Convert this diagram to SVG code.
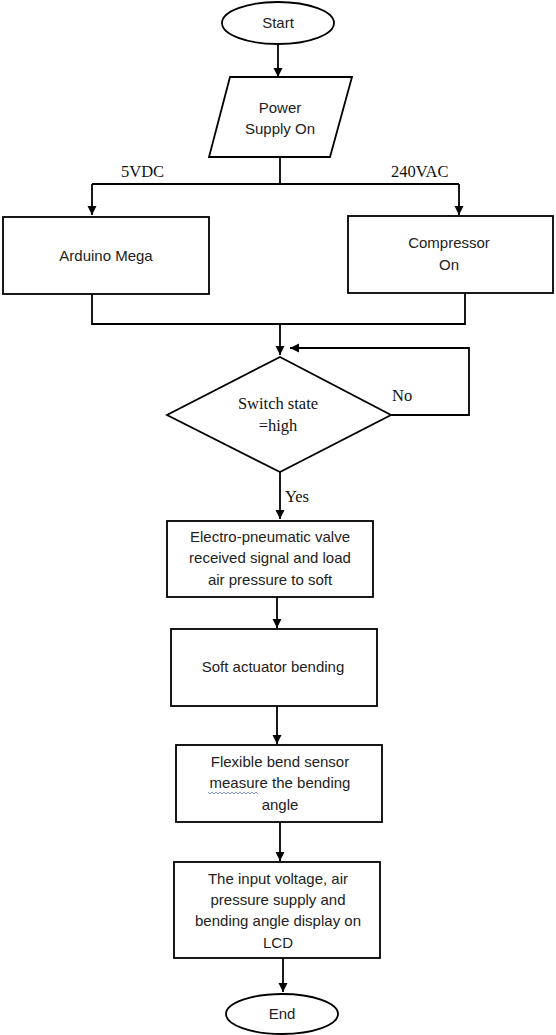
<svg xmlns="http://www.w3.org/2000/svg" width="556" height="1035" viewBox="0 0 556 1035">
<style>
.s{fill:#fff;stroke:#000;stroke-width:1.8}
.c{fill:none;stroke:#000;stroke-width:1.8}
.t{font-family:"Liberation Sans",Arial,sans-serif;font-size:15px;fill:#222;text-anchor:middle}
.m{font-family:"Liberation Serif","Times New Roman",serif;font-size:16.5px;fill:#111}
</style>
<defs>
<marker id="a" markerUnits="userSpaceOnUse" markerWidth="10" markerHeight="10" refX="9" refY="5" orient="auto">
<path d="M0,0.5 L9,5 L0,9.5 Z" fill="#000"/>
</marker>
</defs>
<rect width="556" height="1035" fill="#fff"/>
<g id="connectors">
<path class="c" d="M278,45 V77" marker-end="url(#a)"/>
<path class="c" d="M280,157 V184"/>
<path class="c" d="M92,184 H459"/>
<path class="c" d="M92,184 V215" marker-end="url(#a)"/>
<path class="c" d="M459,184 V215" marker-end="url(#a)"/>
<path class="c" d="M92,294 V324 H465 V293"/>
<path class="c" d="M280,324 V355" marker-end="url(#a)"/>
<path class="c" d="M391,415 H469 V348 H290" marker-end="url(#a)"/>
<path class="c" d="M280,472 V519" marker-end="url(#a)"/>
<path class="c" d="M277,597 V628" marker-end="url(#a)"/>
<path class="c" d="M277,706 V744" marker-end="url(#a)"/>
<path class="c" d="M280,822 V861" marker-end="url(#a)"/>
<path class="c" d="M283,958 V992" marker-end="url(#a)"/>
<text class="m" x="121" y="177">5VDC</text>
<text class="m" x="391" y="177">240VAC</text>
<text class="m" x="392" y="401">No</text>
<text class="m" x="285" y="502">Yes</text>
</g>
<g id="start">
<ellipse class="s" cx="278" cy="23" rx="56" ry="21"/>
<text class="t" x="278" y="28">Start</text>
</g>
<g id="power">
<polygon class="s" points="230,77 352,77 330,157 209,157"/>
<text class="t" x="280" y="113">Power</text>
<text class="t" x="280" y="134">Supply On</text>
</g>
<g id="arduino">
<rect class="s" x="3" y="217" width="206" height="77"/>
<text class="t" x="106" y="261">Arduino Mega</text>
</g>
<g id="compressor">
<rect class="s" x="348" y="216" width="205" height="77"/>
<text class="t" x="449" y="248">Compressor</text>
<text class="t" x="449" y="270">On</text>
</g>
<g id="switch">
<polygon class="s" points="280,357 391,415 280,472 167,415"/>
<text class="m" x="278" y="409" text-anchor="middle">Switch state</text>
<text class="m" x="278" y="431" text-anchor="middle">=high</text>
</g>
<g id="valve">
<rect class="s" x="167" y="521" width="206" height="76"/>
<text class="t" x="270" y="542">Electro-pneumatic valve</text>
<text class="t" x="270" y="563">received signal and load</text>
<text class="t" x="270" y="585">air pressure to soft</text>
</g>
<g id="actuator">
<rect class="s" x="171" y="629" width="206" height="77"/>
<text class="t" x="273" y="672">Soft actuator bending</text>
</g>
<g id="sensor">
<rect class="s" x="176" y="745" width="206" height="77"/>
<text class="t" x="280" y="767">Flexible bend sensor</text>
<text class="t" x="280" y="788">measure the bending</text>
<text class="t" x="280" y="810">angle</text>
<path d="M208,792 l2,2 l2,-2 l2,2 l2,-2 l2,2 l2,-2 l2,2 l2,-2 l2,2 l2,-2 l2,2 l2,-2 l2,2 l2,-2 l2,2 l2,-2 l2,2 l2,-2 l2,2 l2,-2 l2,2 l2,-2 l2,2 l2,-2 l2,2" fill="none" stroke="#5b7bd5" stroke-width="0.8"/>
</g>
<g id="display">
<rect class="s" x="174" y="862" width="206" height="96"/>
<text class="t" x="278" y="884">The input voltage, air</text>
<text class="t" x="278" y="905">pressure supply and</text>
<text class="t" x="278" y="926">bending angle display on</text>
<text class="t" x="278" y="948">LCD</text>
</g>
<g id="end">
<ellipse class="s" cx="282" cy="1014" rx="56" ry="20"/>
<text class="t" x="282" y="1019">End</text>
</g>
</svg>
